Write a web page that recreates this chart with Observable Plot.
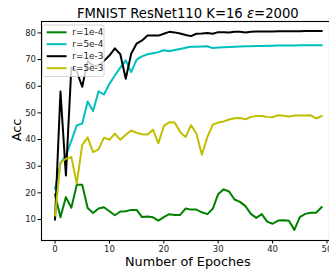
<!DOCTYPE html>
<html>
<head>
<meta charset="utf-8">
<script src="https://cdn.jsdelivr.net/npm/d3@7"></script>
<script src="https://cdn.jsdelivr.net/npm/@observablehq/plot@0.6"></script>
<style>
  html, body { margin: 0; padding: 0; background: #fff; }
  #chart svg { display: block; font-family: "DejaVu Sans", sans-serif; }
</style>
</head>
<body>
<div id="chart"></div>
<script>
const epochs = d3.range(50);
const seriesNames = ["r=1e-4", "r=5e-4", "r=1e-3", "r=5e-3"];
const seriesColors = ["#008000", "#00bfbf", "#000000", "#bfbf00"];

const acc_r1e4 = [19.4,10.8,18.4,14.4,23,23,14.3,12.4,14.1,14.6,
  13.1,11.6,13,13.1,13.6,13.6,10.9,11.1,10.8,9.6,
  10.9,12,11.7,11.7,14.1,13.7,13.7,12.7,12,14,
  19.6,21.3,20.5,17.5,16.6,15,12.1,10.6,12,9.2,
  8.4,9.6,9.7,9.5,6.1,10.9,12.1,12.5,12.5,14.6];
const acc_r5e4 = [21.5,31.2,34,39.5,45.3,46,54.3,50.7,58.1,56.9,
  60.9,64,67,69.7,65.3,70,71.2,72,72.4,72.8,
  73.5,73.1,73.6,74,74.4,74.8,74.8,74.9,75,74.3,
  74.5,74.6,74.7,74.8,74.9,75,75,75.1,75.1,75.2,
  75.2,75.3,75.3,75.3,75.3,75.4,75.4,75.4,75.4,75.4];
const acc_r1e3 = [10,58,26.5,67,65.5,59.8,69.5,67.7,67.8,69.5,
  71.5,74.2,72,62.8,72.2,76,77.2,79,79,79,
  79.7,80.4,80.2,79.8,79.2,78.8,79.7,79.8,80,79.7,
  80.3,80.3,80.2,80.4,80.4,80.2,80.4,80.5,80.5,80.5,
  80.5,80.6,80.6,80.6,80.6,80.6,80.7,80.7,80.7,80.7];
const acc_r5e3 = [11.5,31.3,32.8,33.4,23.5,38,40.8,35.3,36.3,40.7,
  39.9,42.2,39.9,41.8,43.4,42.5,42,41.9,43.7,38.6,
  45.1,46.5,46.4,42.8,40.9,45.4,42.2,34.3,40.9,45.6,
  46.4,46.8,47.5,48,48.1,47.6,48.5,48.8,48.8,48.5,
  48.4,49.1,48.9,48.6,49,49,49,49.1,47.9,48.8];

const xTicks = [0, 10, 20, 30, 40, 50];
const yTicks = [10, 20, 30, 40, 50, 60, 70, 80];

const allSeries = [acc_r1e4, acc_r5e4, acc_r1e3, acc_r5e3];
const rows = [];
allSeries.forEach((vals, si) => {
  vals.forEach((v, i) => rows.push({epoch: epochs[i], acc: v, series: seriesNames[si]}));
});

const W = 329, H = 271;
const plot = Plot.plot({
  width: W,
  height: H,
  marginLeft: 41, marginRight: 0, marginTop: 21, marginBottom: 31,
  style: {fontFamily: "DejaVu Sans, sans-serif", fontSize: "8.5px", color: "#222", background: "#fff"},
  x: {domain: [-2.45, 51.45], range: [41.2, 334.4]},
  y: {domain: [2.0, 84.4], range: [240.3, 20.7]},
  color: {domain: seriesNames, range: seriesColors},
  marks: [
    Plot.axisX({ticks: xTicks, tickSize: 3.5, tickPadding: 2, label: null, fontSize: 8.5, stroke: "#000"}),
    Plot.axisY({ticks: yTicks, tickSize: 3.5, tickPadding: 2, label: null, fontSize: 8.5, stroke: "#000"}),
    ...seriesNames.map(name =>
      Plot.line(rows.filter(d => d.series === name), {
        x: "epoch", y: "acc", stroke: "series", strokeWidth: 2, strokeLinejoin: "round", strokeLinecap: "square"
      })
    ),
    Plot.frame({stroke: "#000", strokeWidth: 1.1})
  ]
});
document.getElementById("chart").appendChild(plot);

const svg = d3.select(plot);
// Title
const title = svg.append("text")
  .attr("x", 187.8).attr("y", 17.5)
  .attr("text-anchor", "middle")
  .style("font-size", "13.2px").style("fill", "#000");
title.append("tspan").text("FMNIST ResNet110 K=16 ");
title.append("tspan").style("font-style", "italic").text("ε");
title.append("tspan").text("=2000");

// Axis labels
svg.append("text")
  .attr("x", 187.8).attr("y", 266)
  .attr("text-anchor", "middle")
  .style("font-size", "12.8px").style("fill", "#000")
  .text("Number of Epoches");
svg.append("text")
  .attr("transform", "translate(21,130) rotate(-90)")
  .attr("text-anchor", "middle")
  .style("font-size", "12.8px").style("fill", "#000")
  .text("Acc");

// Legend
const lg = svg.append("g");
lg.append("rect")
  .attr("x", 42.5).attr("y", 25).attr("width", 61.5).attr("height", 51.5)
  .attr("rx", 2).attr("fill", "#fff").attr("fill-opacity", 0.8)
  .attr("stroke", "#ccc").attr("stroke-width", 0.8);
const rowY = [32.3, 44.2, 56.2, 68.2];
seriesNames.forEach((name, i) => {
  lg.append("line")
    .attr("x1", 46.7).attr("x2", 66.5)
    .attr("y1", rowY[i]).attr("y2", rowY[i])
    .attr("stroke", seriesColors[i]).attr("stroke-width", 2);
  lg.append("text")
    .attr("x", 72.3).attr("y", rowY[i]).attr("dy", "0.35em")
    .attr("text-anchor", "start")
    .style("font-size", "8.9px").style("fill", "#222")
    .text(name);
});
</script>
</body>
</html>
